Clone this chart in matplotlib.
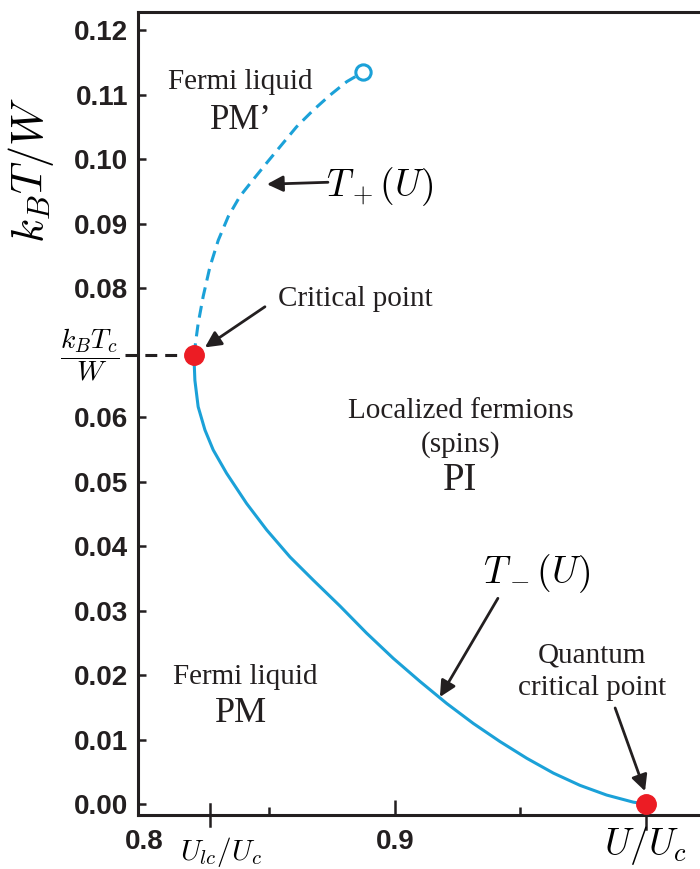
import numpy as np
import matplotlib
matplotlib.use("Agg")
import matplotlib.pyplot as plt

# Values
# T_+(U) branch (dashed), from the critical point up to the open circle
u_plus = [0.8199, 0.8216, 0.8236, 0.8263, 0.8296, 0.8336, 0.8382, 0.8435,
          0.8489, 0.8542, 0.8608, 0.8675, 0.8741, 0.8808, 0.8874]
t_plus = [0.0696, 0.0745, 0.0787, 0.0833, 0.0874, 0.0911, 0.0942, 0.0968,
          0.0994, 0.1019, 0.1050, 0.1076, 0.1099, 0.1120, 0.1135]

# T_-(U) branch (solid), from the critical point down to the QCP
u_minus = [0.8199, 0.8203, 0.8216, 0.8243, 0.8276, 0.8329, 0.8409, 0.8489,
           0.8582, 0.8675, 0.8781, 0.8887, 0.8993, 0.9100, 0.9206, 0.9312,
           0.9418, 0.9525, 0.9631, 0.9737, 0.9843, 0.9949, 1.0]
t_minus = [0.0696, 0.0657, 0.0616, 0.0580, 0.0549, 0.0513, 0.0466, 0.0425,
           0.0383, 0.0347, 0.0307, 0.0265, 0.0226, 0.0190, 0.0156, 0.0125,
           0.0097, 0.0071, 0.0048, 0.0029, 0.0014, 0.0003, 0.0]

critical_point = (0.8199, 0.0696)
qcp = (1.0, 0.0)
end_point = (0.8874, 0.1135)
u_lc = 0.8263

y_ticks = [0.00, 0.01, 0.02, 0.03, 0.04, 0.05, 0.06, 0.08, 0.09, 0.10, 0.11, 0.12]
x_ticks = [0.8, 0.9]
x_minor = [0.85, 0.95]

BLUE = "#1ba1d8"
RED = "#ec1c24"
INK = "#231f20"

plt.rcParams["mathtext.fontset"] = "cm"
serif = "Liberation Serif"

fig = plt.figure(figsize=(7.0, 8.69), dpi=100)
ax = fig.add_axes([0.197, 0.0621, 0.803, 0.9241])

ax.set_xlim(0.7976, 1.0215)
ax.set_ylim(-0.0017, 0.1228)

# curves
ax.plot(u_minus, t_minus, color=BLUE, lw=2.2, solid_capstyle="round",
        solid_joinstyle="round")
ax.plot(u_plus, t_plus, color=BLUE, lw=2.2, dashes=(3.9, 2.3))
ax.plot([0.7924, critical_point[0]], [critical_point[1]] * 2, color=INK,
        lw=2.2, dashes=(3.9, 2.6), clip_on=False, zorder=4)

ax.plot(*end_point, "o", ms=11, mfc="white", mec=BLUE, mew=2.2, zorder=5)
ax.plot(*critical_point, "o", ms=14, color=RED, zorder=6)
ax.plot(*qcp, "o", ms=14, color=RED, zorder=6, clip_on=False)

# spines and ticks
for s in ["left", "top", "bottom"]:
    ax.spines[s].set_linewidth(2.2)
    ax.spines[s].set_color(INK)
ax.spines["right"].set_visible(False)

ax.set_yticks(y_ticks)
ax.set_yticklabels([f"{v:.2f}" for v in y_ticks])
ax.tick_params(axis="y", direction="in", length=6, width=1.8, color=INK,
               pad=7, labelsize=20)
ax.set_xticks(x_ticks)
ax.set_xticklabels(["0.8", "0.9"])
ax.set_xticks(x_minor, minor=True)
ax.tick_params(axis="x", which="major", direction="in", length=11, width=1.8,
               color=INK, pad=10, labelsize=20)
ax.tick_params(axis="x", which="minor", direction="in", length=6, width=1.8,
               color=INK)
ax.xaxis.get_major_ticks()[0].tick1line.set_visible(False)
for lab in ax.get_xticklabels() + ax.get_yticklabels():
    lab.set_fontfamily("Liberation Sans")
    lab.set_fontweight("bold")
    lab.set_color(INK)

# extra ticks for U_lc/U_c and U/U_c
xt = ax.get_xaxis_transform()
ax.plot([u_lc, u_lc], [-0.014, 0.014], color=INK, lw=1.8, transform=xt,
        clip_on=False)
ax.plot([qcp[0], qcp[0]], [-0.017, 0.0], color=INK, lw=1.8, transform=xt,
        clip_on=False)

# axis labels
ax.text(u_lc + 0.0045, -0.0075, r"$U_{lc}/U_c$", fontsize=21, ha="center",
        va="center")
ax.text(1.0, -0.0065, r"$U/U_c$", fontsize=27, ha="center", va="center")
fig.text(0.045, 0.805, r"$k_BT/W$", fontsize=32, rotation=90, ha="center",
         va="center")
ax.text(0.7782, critical_point[1], r"$\dfrac{k_BT_c}{W}$", fontsize=20,
        ha="center", va="center")

# region labels
tk = dict(family=serif, color=INK, ha="center", va="center")
ax.text(0.8382, 0.1120, "Fermi liquid", fontsize=21, **tk)
ax.text(0.8388, 0.1060, "PM\u2019", fontsize=25, **tk)
ax.text(0.8402, 0.0197, "Fermi liquid", fontsize=21, **tk)
ax.text(0.8386, 0.0140, "PM", fontsize=26, **tk)
ax.text(0.9263, 0.0609, "Localized fermions", fontsize=21, **tk)
ax.text(0.9260, 0.0557, "(spins)", fontsize=21, **tk)
ax.text(0.9260, 0.0502, "PI", fontsize=28, **tk)
ax.text(0.9785, 0.0231, "Quantum", fontsize=21, **tk)
ax.text(0.9785, 0.0180, "critical point", fontsize=21, **tk)

# annotations with arrows
ap = dict(arrowstyle="-|>", lw=2.0, color=INK, mutation_scale=24,
          shrinkA=0, shrinkB=0)
ax.annotate("", xy=(0.8490, 0.0961), xytext=(0.8733, 0.0964), arrowprops=ap)
ax.text(0.8939, 0.0957, r"$T_+(U)$", fontsize=27, ha="center", va="center")
ax.annotate("", xy=(0.8243, 0.0708), xytext=(0.8482, 0.0771), arrowprops=ap)
ax.text(0.8841, 0.0783, "Critical point", fontsize=21, **tk)
ax.annotate("", xy=(0.9179, 0.0166), xytext=(0.9410, 0.0319), arrowprops=ap)
ax.text(0.9562, 0.0357, r"$T_-(U)$", fontsize=27, ha="center", va="center")
ax.annotate("", xy=(0.9996, 0.0020), xytext=(0.9877, 0.0149), arrowprops=ap)

fig.savefig("out.png", dpi=100)
